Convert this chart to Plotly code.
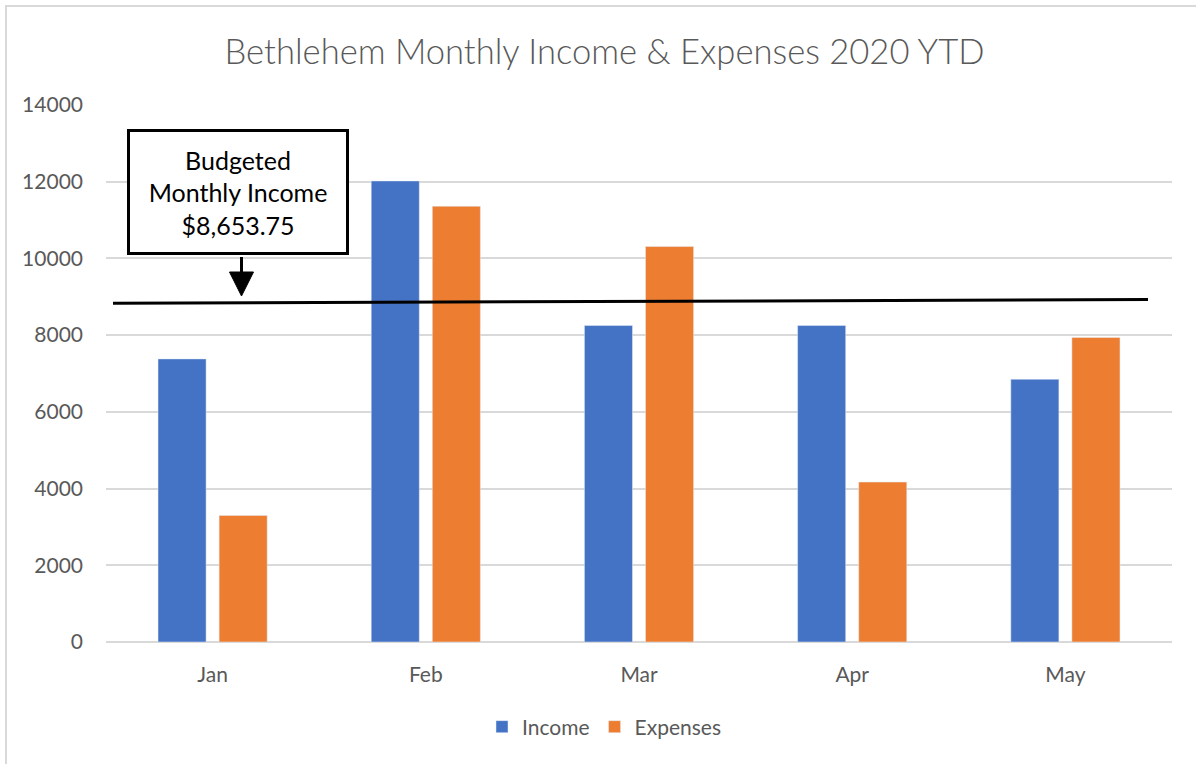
import plotly.graph_objects as go

# ---- data ----
months = ["Jan", "Feb", "Mar", "Apr", "May"]
income = [7380, 12020, 8250, 8250, 6850]
expenses = [3300, 11360, 10310, 4170, 7940]
y_ticks = [0, 2000, 4000, 6000, 8000, 10000, 12000, 14000]
y_tick_labels = ["0", "2000", "4000", "6000", "8000", "10000", "12000", "14000"]
budget_label = "Budgeted<br>Monthly Income<br>$8,653.75"
budget_line_y = [8830, 8930]   # drawn line, left and right ends as read

W, H = 1196, 764
L, R, T, B = 106, 24, 105, 122
PW, PH = W - L - R, H - T - B

def px(x):
    return (x - L) / PW

def py(y):
    return (H - B - y) / PH

GRAY = "#595959"
FONT = "Lato"

fig = go.Figure()
fig.add_trace(go.Bar(name="Income", x=months, y=income, marker_color="#4472C4"))
fig.add_trace(go.Bar(name="Expenses", x=months, y=expenses, marker_color="#ED7D31"))

shapes = [
    # budget line
    dict(type="line", xref="paper", yref="y", x0=px(113), x1=px(1148),
         y0=budget_line_y[0], y1=budget_line_y[1], line=dict(color="black", width=3)),
    # arrow stem
    dict(type="line", xref="paper", yref="paper", x0=px(241.5), x1=px(241.5),
         y0=py(257), y1=py(273), line=dict(color="black", width=3)),
    # arrow head
    dict(type="path", xref="paper", yref="paper",
         path=f"M {px(229.5)} {py(272)} L {px(253.5)} {py(272)} L {px(241.5)} {py(296)} Z",
         fillcolor="black", line=dict(color="black", width=1)),
    # chart border
    dict(type="rect", xref="paper", yref="paper", x0=px(6), x1=px(1210),
         y0=py(780), y1=py(6), line=dict(color="#d9d9d9", width=2), layer="below"),
]

fig.update_layout(
    width=W, height=H,
    margin=dict(l=L, r=R, t=T, b=B),
    paper_bgcolor="white", plot_bgcolor="white",
    barmode="group", bargap=0.427, bargroupgap=0.213,
    title=dict(text="Bethlehem Monthly Income & Expenses 2020 YTD",
               x=px(604.5), xanchor="center", xref="paper",
               y=1 - 52 / H, yanchor="middle",
               font=dict(family=FONT, size=34.6, color=GRAY, weight=300)),
    font=dict(family=FONT, color=GRAY, size=21),
    legend=dict(orientation="h", x=px(604), xanchor="center", y=py(727), yanchor="middle",
                font=dict(family=FONT, size=21, color=GRAY), itemwidth=30,
                traceorder="normal"),
    shapes=shapes,
    annotations=[
        dict(text=budget_label, xref="paper", yref="paper", x=px(237.5), y=py(192),
             xanchor="center", yanchor="middle", showarrow=False,
             font=dict(family=FONT, size=25, color="black"),
             bgcolor="white", bordercolor="black", borderwidth=3, borderpad=0,
             width=216, height=120, align="center", valign="middle"),
    ],
)
fig.update_yaxes(range=[0, 14000], tickvals=y_ticks, ticktext=y_tick_labels, showgrid=True,
                 gridcolor="#d9d9d9", gridwidth=2, zeroline=True,
                 zerolinecolor="#d9d9d9", zerolinewidth=2, showline=False,
                 ticklabelstandoff=22, tickfont=dict(size=21, color=GRAY))
fig.update_xaxes(showline=False, ticks="", ticklabelstandoff=18,
                 tickfont=dict(size=21, color=GRAY))

fig.write_html("out.html", config={"displayModeBar": False},
               post_script="document.body.style.margin='0';document.body.style.overflow='hidden';")
